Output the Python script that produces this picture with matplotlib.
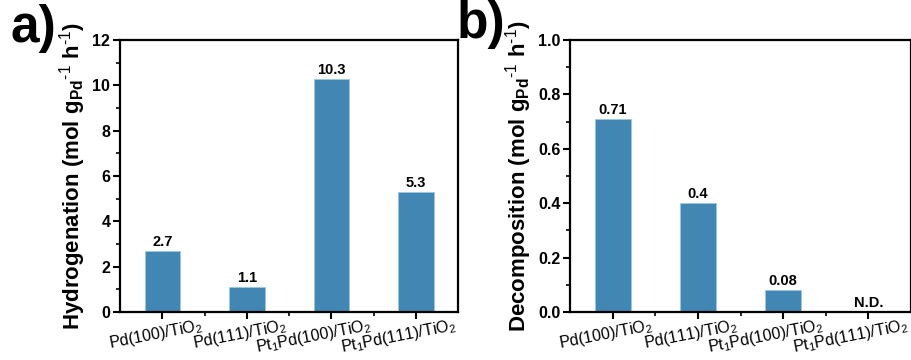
import matplotlib
matplotlib.use("Agg")
import matplotlib.pyplot as plt
from matplotlib.ticker import MultipleLocator, FixedLocator, FormatStrFormatter, NullFormatter
from matplotlib.transforms import ScaledTranslation

plt.rcParams['font.family'] = ['Liberation Sans', 'DejaVu Sans']
plt.rcParams['mathtext.fontset'] = 'custom'
plt.rcParams['mathtext.rm'] = 'Liberation Sans'
plt.rcParams['mathtext.it'] = 'Liberation Sans:italic'
plt.rcParams['mathtext.bf'] = 'Liberation Sans:bold'
plt.rcParams['mathtext.default'] = 'regular'

categories = ["Pd(100)/TiO$_2$", "Pd(111)/TiO$_2$",
              "Pt$_1$Pd(100)/TiO$_2$", "Pt$_1$Pd(111)/TiO$_2$"]
hydrogenation = [2.7, 1.1, 10.3, 5.3]
hydro_labels = ["2.7", "1.1", "10.3", "5.3"]
decomposition = [0.71, 0.40, 0.08, 0.0]
decomp_labels = ["0.71", "0.4", "0.08", "N.D."]

bar_color = "#4286b3"

fig = plt.figure(figsize=(9.12, 3.6), dpi=100)
ax_a = fig.add_axes([0.1316, 0.1333, 0.3706, 0.7556])
ax_b = fig.add_axes([0.625, 0.1333, 0.374, 0.7556])

unit = r"(mol g$_{Pd}$$^{\text{-1}}$ h$^{\text{-1}}$)"


def draw(ax, values, labels, ylim, major, minor, ylabel, offset, fmt):
    x = list(range(1, len(values) + 1))
    ax.bar(x, values, width=0.42, color=bar_color, edgecolor="#9cc7e0", linewidth=0.6)
    for xi, v, lab in zip(x, values, labels):
        ax.text(xi, v + offset, lab, ha="center", va="bottom",
                fontsize=10.5, fontweight="bold")
    ax.set_xlim(0.5, 4.5)
    ax.set_ylim(*ylim)
    ax.yaxis.set_major_locator(MultipleLocator(major))
    ax.yaxis.set_minor_locator(MultipleLocator(minor))
    ax.yaxis.set_major_formatter(fmt)
    ax.set_xticks(x)
    ax.xaxis.set_major_formatter(NullFormatter())
    ax.xaxis.set_minor_locator(FixedLocator([1.5, 2.5, 3.5]))
    # slanted category names, anchored at their upper-right corner
    shift = ScaledTranslation(0.38, -0.045, fig.dpi_scale_trans)
    for xi, cat in zip(x, categories):
        ax.text(xi, 0, cat, transform=ax.get_xaxis_transform() + shift,
                rotation=11, rotation_mode="anchor", ha="right", va="top",
                fontsize=11.5, clip_on=False)
    ax.tick_params(axis="both", which="major", direction="out", length=5, width=1.5)
    ax.tick_params(axis="both", which="minor", direction="out", length=3, width=1.2)
    ax.tick_params(axis="y", which="major", pad=2)
    for lab in ax.get_yticklabels():
        lab.set_fontweight("bold")
        lab.set_fontsize(11.5)
    for s in ax.spines.values():
        s.set_linewidth(1.6)
    ax.set_ylabel(ylabel, fontsize=16, fontweight="bold", labelpad=3)


draw(ax_a, hydrogenation, hydro_labels, (0, 12), 2, 1,
     "Hydrogenation " + unit, 0.08, FormatStrFormatter("%d"))
draw(ax_b, decomposition, decomp_labels, (0, 1.0), 0.2, 0.1,
     "Decomposition " + unit, 0.007, FormatStrFormatter("%.1f"))

fig.text(0.012, 0.99, "a)", fontsize=37, fontweight="bold", va="top")
fig.text(0.501, 1.0, "b)", fontsize=37, fontweight="bold", va="top")

fig.savefig("out.png", dpi=100)
